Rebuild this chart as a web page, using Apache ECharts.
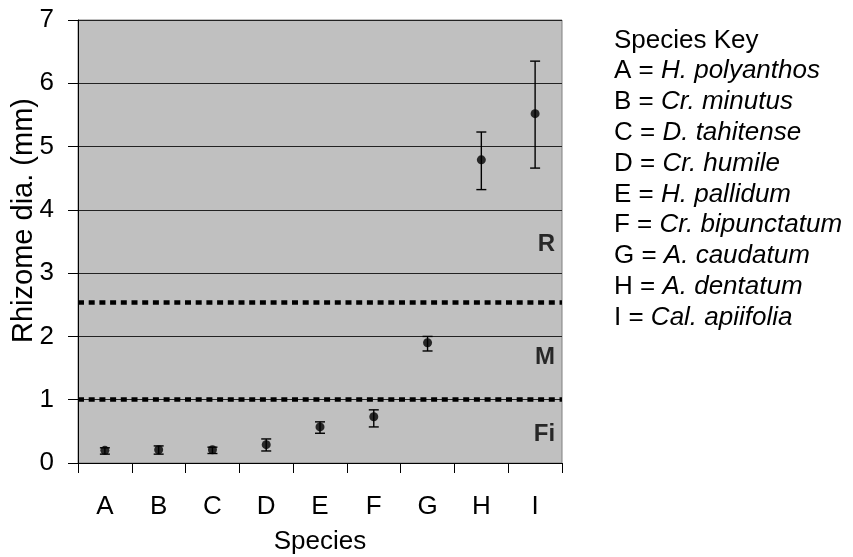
<!DOCTYPE html>
<html>
<head>
<meta charset="utf-8">
<script src="https://cdn.jsdelivr.net/npm/echarts@6/dist/echarts.min.js"></script>
<style>
html,body{margin:0;padding:0;background:#fff;}
#chart{width:853px;height:557px;}
</style>
</head>
<body>
<div id="chart"></div>
<script>
// ---- Data ----
var categories = ['A','B','C','D','E','F','G','H','I'];
var means = [0.20, 0.21, 0.21, 0.29, 0.57, 0.73, 1.90, 4.79, 5.52];
var upper = [0.24, 0.27, 0.25, 0.38, 0.65, 0.84, 2.00, 5.23, 6.35];
var lower = [0.14, 0.14, 0.15, 0.19, 0.47, 0.57, 1.77, 4.32, 4.66];
var thresholds = [1, 2.54];
var zoneLabels = ['R', 'M', 'Fi'];
var zoneValues = [3.45, 1.67, 0.46];
var keyLetters = ['A','B','C','D','E','F','G','H','I'];
var speciesNames = ['H. polyanthos','Cr. minutus','D. tahitense','Cr. humile','H. pallidum','Cr. bipunctatum','A. caudatum','A. dentatum','Cal. apiifolia'];
var yTicks = {min: 0, max: 7, interval: 1};

var FONT = "'Liberation Sans', Arial, sans-serif";
var FS = 26;

var chart = echarts.init(document.getElementById('chart'), null, {renderer: 'canvas'});

var errData = categories.map(function (c, i) { return [i, lower[i], upper[i]]; });
var zoneData = zoneLabels.map(function (l, i) { return {value: [categories.length - 1, zoneValues[i]], name: l}; });

var keyLines = ['Species Key'].concat(keyLetters.map(function (k, i) {
  return k + ' = {i|' + speciesNames[i] + '}';
}));

var option = {
  animation: false,
  backgroundColor: '#ffffff',
  grid: {
    left: 78, right: 291, top: 20, bottom: 94,
    containLabel: false,
    outerBoundsMode: 'none',
    show: true, backgroundColor: '#c0c0c0', borderColor: '#808080', borderWidth: 1
  },
  xAxis: {
    type: 'category',
    data: categories,
    boundaryGap: true,
    name: 'Species',
    nameLocation: 'middle',
    nameGap: 66,
    nameMoveOverlap: false,
    nameTextStyle: {fontFamily: FONT, fontSize: FS, color: '#000'},
    axisLine: {lineStyle: {color: '#000', width: 1}},
    axisTick: {show: true, length: 10, alignWithLabel: false, lineStyle: {color: '#000'}},
    axisLabel: {fontFamily: FONT, fontSize: FS, color: '#000', margin: 31},
    splitLine: {show: false}
  },
  yAxis: {
    type: 'value',
    min: yTicks.min, max: yTicks.max, interval: yTicks.interval,
    name: 'Rhizome dia. (mm)',
    nameLocation: 'middle',
    nameGap: 40,
    nameMoveOverlap: false,
    nameTextStyle: {fontFamily: FONT, fontSize: 29, color: '#000', padding: [0, 0, 0, 42]},
    axisLine: {show: true, lineStyle: {color: '#000', width: 1}},
    axisTick: {show: true, length: 10, lineStyle: {color: '#000'}},
    axisLabel: {fontFamily: FONT, fontSize: FS, color: '#000', margin: 24},
    splitLine: {show: true, lineStyle: {color: '#222', width: 1}}
  },
  series: [
    {
      type: 'custom',
      name: 'err',
      data: errData,
      z: 3,
      renderItem: function (params, api) {
        var x = api.value(0);
        var lo = api.coord([x, api.value(1)]);
        var hi = api.coord([x, api.value(2)]);
        var hw = 5;
        return {
          type: 'group',
          children: [
            {type: 'line', shape: {x1: lo[0], y1: lo[1], x2: hi[0], y2: hi[1]}, style: {stroke: '#000', lineWidth: 1.4}},
            {type: 'line', shape: {x1: lo[0] - hw, y1: lo[1], x2: lo[0] + hw, y2: lo[1]}, style: {stroke: '#000', lineWidth: 1.4}},
            {type: 'line', shape: {x1: hi[0] - hw, y1: hi[1], x2: hi[0] + hw, y2: hi[1]}, style: {stroke: '#000', lineWidth: 1.4}}
          ]
        };
      }
    },
    {
      type: 'scatter',
      name: 'mean',
      data: means,
      symbol: 'circle',
      symbolSize: 9,
      itemStyle: {color: '#000'},
      z: 4,
      markLine: {
        silent: true,
        symbol: 'none',
        label: {show: false},
        lineStyle: {color: '#000', width: 4.5, type: [6, 4.7]},
        data: thresholds.map(function (t) { return {yAxis: t}; })
      }
    },
    {
      type: 'scatter',
      name: 'zones',
      data: zoneData,
      symbolSize: 0,
      silent: true,
      label: {
        show: true,
        position: 'inside',
        formatter: '{b}',
        align: 'right',
        offset: [20, 0],
        fontFamily: FONT, fontSize: 24, fontWeight: 'bold', color: '#000'
      }
    }
  ],
  graphic: [
    {
      type: 'text',
      left: 614,
      top: 25,
      style: {
        text: keyLines.join('\n'),
        fontFamily: FONT,
        fontSize: FS,
        lineHeight: 30.8,
        fill: '#000',
        rich: {
          i: {fontFamily: FONT, fontSize: FS, fontStyle: 'italic', lineHeight: 30.8, fill: '#000'}
        }
      }
    }
  ]
};

chart.setOption(option);
</script>
</body>
</html>
